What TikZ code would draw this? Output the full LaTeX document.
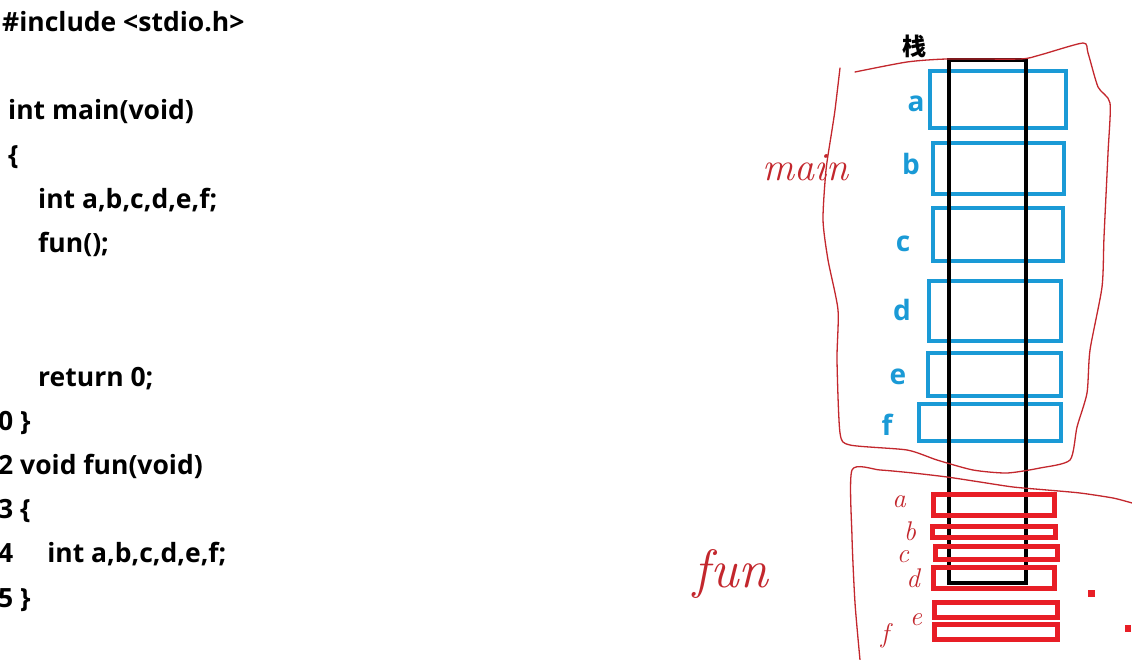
\documentclass[tikz,border=0pt]{standalone}
\usepackage{fontspec}
\setmainfont{Open Sans}
\newfontfamily\cjkfont{Noto Sans CJK SC}
\newfontfamily\handfont{Latin Modern Roman}
\usetikzlibrary{positioning}
\definecolor{stackblue}{HTML}{1A9AD6}
\definecolor{boxred}{HTML}{E81E26}
\definecolor{penred}{HTML}{C3272D}
\newcommand{\codesize}{\fontsize{26.5}{30}\selectfont}

\begin{document}
\begin{tikzpicture}[x=1pt,y=-1pt]
  \tikzstyle{codeline}=[anchor=base west,inner sep=0pt,font=\bfseries\codesize]
  \tikzstyle{varlabel}=[anchor=base,inner sep=0pt,text=stackblue,
       font=\bfseries\fontsize{28}{30}\selectfont]
  \tikzstyle{stackbox}=[line width=4pt,black]
  \tikzstyle{varbox}=[line width=4.6pt,stackblue]
  \tikzstyle{funbox}=[line width=5pt,boxred]
  \tikzstyle{pen}=[line width=1.3pt,penred,line cap=round,line join=round]
  \tikzstyle{handtext}=[inner sep=0pt,text=penred,font=\handfont\itshape]
  \tikzstyle{handletter}=[handtext,font=\handfont\itshape\fontsize{27}{27}\selectfont]
  \fill[white] (0,0) rectangle (1132,660);
  \useasboundingbox (0,0) rectangle (1132,660);

  % source code
  \node[codeline] (inc) at (2,32) {\#include <stdio.h>};
  \node[codeline] (mainhead) at (8,120) {int main(void)};
  \node[codeline] (mainopen) at (8,165) {\{};
  \node[codeline] (maindecl) at (38,209) {int a,b,c,d,e,f;};
  \node[codeline] (maincall) at (38,253) {fun();};
  \node[codeline] (mainret) at (38,386) {return 0;};
  \node[codeline] (mainclose) at (-2,430) {0 \}};
  \node[codeline] (funhead) at (-2,474) {2 void fun(void)};
  \node[codeline] (funopen) at (-2,518) {3 \{};
  \node[codeline] (fundecl) at (-2,562) {4\hspace{34pt}int a,b,c,d,e,f;};
  \node[codeline] (funclose) at (-2,607) {5 \}};

  % stack of main
  \node[font=\cjkfont\bfseries\fontsize{24}{26}\selectfont,inner sep=0pt] (stacktitle) at (914,46) {栈};
  \draw[varbox] (930,71) rectangle (1066,128);
  \draw[varbox] (933,143) rectangle (1064,194);
  \draw[varbox] (933,208) rectangle (1063,261);
  \draw[varbox] (929,281) rectangle (1061,341);
  \draw[varbox] (928,353) rectangle (1061,396);
  \draw[varbox] (919,404) rectangle (1061,441);
  \node[varlabel] (la) at (916,112) {a};
  \node[varlabel] (lb) at (911,175) {b};
  \node[varlabel] (lc) at (903,252) {c};
  \node[varlabel] (ld) at (902,320) {d};
  \node[varlabel] (le) at (898,384) {e};
  \node[varlabel] (lf) at (887,435) {f};
  \draw[stackbox] (949,60) rectangle (1026,583);

  % frame of fun
  \draw[funbox] (933,494) rectangle (1054,515);
  \draw[funbox] (932,526) rectangle (1055,537);
  \draw[funbox] (935,546) rectangle (1057,559);
  \draw[funbox] (933,567) rectangle (1054,588);
  \draw[funbox] (934,602) rectangle (1057,617);
  \draw[funbox] (934,624) rectangle (1057,639);
  \fill[boxred] (1088,590) rectangle (1095,597);
  \fill[boxred] (1125,625) rectangle (1131,632);

  % pen marks
  \draw[pen] plot[smooth,tension=0.4] coordinates {(840,68) (835,110) (832,130)
    (826,170) (823,220) (828,260) (838,310) (837,360) (840,433) (850,445)
    (907,450) (937,460) (973,470) (1007,473) (1040,468) (1070,460) (1077,427)
    (1087,393) (1090,350) (1102,287) (1104,237) (1108,153) (1110,103)
    (1098,87) (1088,53) (1083,43) (1040,55) (1020,59) (947,59) (907,62) (855,72)};
  \draw[pen] plot[smooth,tension=0.4] coordinates {(860,660) (855,603)
    (852,537) (852,470) (880,470) (913,473) (947,477) (980,482) (1013,487)
    (1047,490) (1080,493) (1113,498) (1132,503)};
  \node[handtext,font=\handfont\itshape\fontsize{40}{40}\selectfont] (mainmark) at (805,168) {main};
  \node[handtext,font=\handfont\itshape\fontsize{54}{54}\selectfont] (funmark) at (731,574) {fun};
  \node[handletter] (ha) at (899,502) {a};
  \node[handletter] (hb) at (910,531) {b};
  \node[handletter] (hc) at (903,557) {c};
  \node[handletter] (hd) at (913,578) {d};
  \node[handletter] (he) at (916,620) {e};
  \node[handletter] (hf) at (885,636) {f};
\end{tikzpicture}
\end{document}
